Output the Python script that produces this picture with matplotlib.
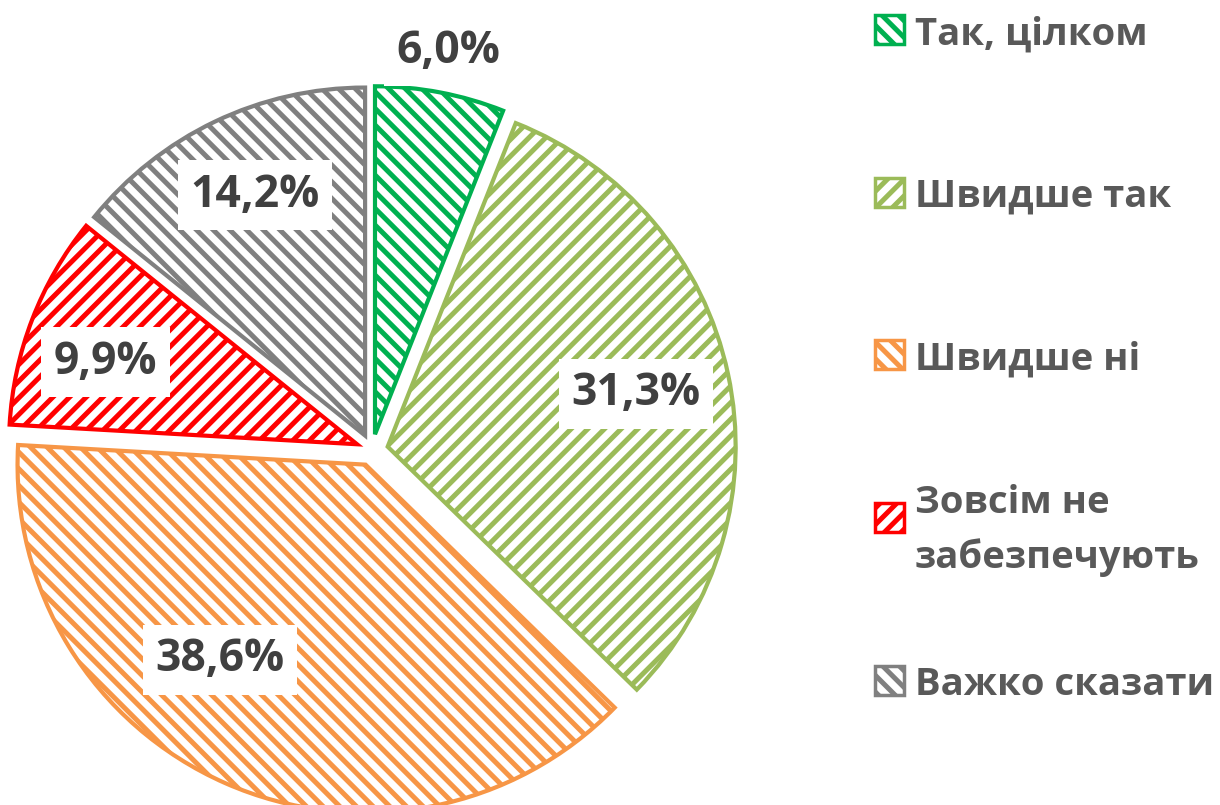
import numpy as np
import matplotlib
matplotlib.use("Agg")
import matplotlib.pyplot as plt
from matplotlib.patches import Rectangle

# дані
categories = ["Так, цілком", "Швидше так", "Швидше ні",
              "Зовсім не\nзабезпечують", "Важко сказати"]
values = [6.0, 31.3, 38.6, 9.9, 14.2]

# стиль
colors = ["#00B050", "#9BBB59", "#F79646", "#FF0000", "#808080"]
hatches = ["\\\\", "//", "\\\\", "//", "\\\\"]
label_dist = [1.12, 0.73, 0.70, 0.76, 0.76]
label_shift = [0, 0, -13, 3, -1]

plt.rcParams['font.family'] = ['Open Sans', 'DejaVu Sans']
plt.rcParams['hatch.linewidth'] = 3.6

W, H = 1220, 805
fig = plt.figure(figsize=(W / 100, H / 100), dpi=100)

# вісь під кругову діаграму: центр (372, 450) px, радіус 348 px
cx, cy, R = 372, 450, 348
ax = fig.add_axes([(cx - R) / W, (H - cy - R) / H, 2 * R / W, 2 * R / H])

wedges, _ = ax.pie(values, startangle=90, counterclock=False, radius=1,
                   explode=[0.046] * len(values),
                   wedgeprops=dict(facecolor="white", linewidth=3))
ax.set_xlim(-1, 1)
ax.set_ylim(-1, 1)
ax.axis("off")

for w, col, h, dist, sh, v in zip(wedges, colors, hatches, label_dist,
                                  label_shift, values):
    w.set_edgecolor(col)
    w.set_hatch(h)
    w.set_clip_on(False)
    ang = np.deg2rad((w.theta1 + w.theta2) / 2 + sh)
    x0, y0 = w.center
    ax.text(x0 + dist * np.cos(ang), y0 + dist * np.sin(ang),
            f"{v:.1f}%".replace(".", ","), ha="center", va="center",
            fontsize=32, fontweight="bold", color="#404040",
            bbox=dict(boxstyle="square,pad=0.28", fc="white", ec="none"),
            clip_on=False)

# легенда
sq = 29
for i, (lab, col, h) in enumerate(zip(categories, colors, hatches)):
    yc = 30 + i * 162.5
    fig.add_artist(Rectangle((875 / W, (H - yc - sq / 2) / H), sq / W, sq / H,
                             transform=fig.transFigure, facecolor="white",
                             edgecolor=col, hatch=h, linewidth=2.5))
    fig.text(915 / W, (H - yc) / H, lab, ha="left", va="center_baseline",
             fontsize=27.5, fontweight="bold", color="#595959",
             linespacing=1.55)

fig.savefig("out.png", dpi=100)
